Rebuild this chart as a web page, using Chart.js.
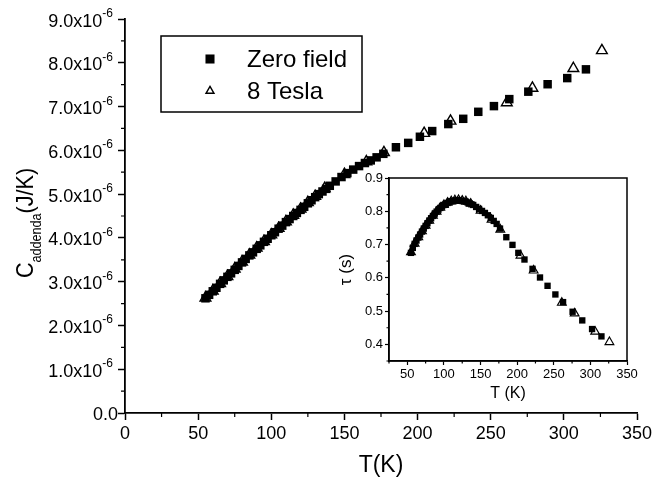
<!DOCTYPE html>
<html>
<head>
<meta charset="utf-8">
<script src="https://cdn.jsdelivr.net/npm/chart.js@4.4.1/dist/chart.umd.min.js"></script>
<style>
body { margin: 0; background: #fff; }
#wrap { position: relative; width: 667px; height: 479px; }
canvas { position: absolute; left: 0; top: 0; }
</style>
</head>
<body>
<div id="wrap">
  <canvas id="mainChart" width="667" height="479"></canvas>
  <canvas id="insetChart" width="667" height="479"></canvas>
</div>
<script>
// values; C is in units of 1e-6 J/K
var tZero = [55, 57.5, 60, 62.5, 65, 67.5, 70, 72.5, 75, 77.5, 80, 82.5, 85, 87.5, 90, 92.5, 95, 97.5,
  100, 102.5, 105, 107.5, 110, 112.5, 115, 117.5, 120, 122.5, 125, 127.5, 130, 132.5, 135, 137.5, 140,
  144, 148, 152, 156, 160, 164, 168, 172,
  176.6, 185.2, 193.6, 201.6, 210, 221, 231.2, 241.5, 252.2, 262.7, 275.7, 288.9, 302.3, 315.1];
var cZero = [2.62, 2.70, 2.78, 2.86, 2.95, 3.03, 3.11, 3.19, 3.27, 3.36, 3.44, 3.52, 3.60, 3.67, 3.75, 3.83, 3.91, 3.98,
  4.06, 4.13, 4.21, 4.28, 4.36, 4.43, 4.50, 4.57, 4.64, 4.71, 4.79, 4.86, 4.93, 5.00, 5.06, 5.12, 5.19,
  5.29, 5.39, 5.48, 5.56, 5.64, 5.71, 5.77, 5.84,
  5.92, 6.07, 6.17, 6.31, 6.44, 6.60, 6.72, 6.88, 7.01, 7.17, 7.34, 7.51, 7.65, 7.85];
var tauZero = [0.675, 0.690, 0.702, 0.712, 0.721, 0.730, 0.739, 0.748, 0.756, 0.764, 0.772, 0.779, 0.786, 0.793, 0.799, 0.805, 0.810, 0.815,
  0.819, 0.822, 0.825, 0.828, 0.830, 0.831, 0.832, 0.833, 0.833, 0.832, 0.831, 0.830, 0.829, 0.826, 0.824, 0.821, 0.819,
  0.813, 0.807, 0.801, 0.795, 0.788, 0.780, 0.771, 0.762,
  0.748, 0.722, 0.699, 0.675, 0.655, 0.627, 0.601, 0.576, 0.550, 0.527, 0.498, 0.472, 0.446, 0.424];

var tTesla = [55, 60, 65, 70, 75, 80, 85, 90, 95, 100, 105, 110, 115, 120, 125, 130, 136.5, 150, 165, 177,
  204.5, 222.5, 261, 278.5, 306.5, 326];
var cTesla = [2.63, 2.79, 2.96, 3.12, 3.29, 3.45, 3.61, 3.77, 3.92, 4.07, 4.22, 4.37, 4.52, 4.66, 4.81, 4.95, 5.13, 5.45, 5.74, 5.95,
  6.39, 6.67, 7.09, 7.42, 7.87, 8.28];
var tauTesla = [0.677, 0.703, 0.722, 0.740, 0.757, 0.772, 0.787, 0.799, 0.811, 0.819, 0.826, 0.830, 0.833, 0.834, 0.832, 0.830, 0.823, 0.802, 0.775, 0.745,
  0.667, 0.622, 0.525, 0.493, 0.438, 0.407];

var seriesLabels = ["Zero field", "8 Tesla"];
var yTickLabels = ["0.0", "1.0x10", "2.0x10", "3.0x10", "4.0x10", "5.0x10", "6.0x10", "7.0x10", "8.0x10", "9.0x10"];
var yTickExp = "-6";
var insetXTicks = [50, 100, 150, 200, 250, 300, 350];
var insetYTicks = [0.4, 0.5, 0.6, 0.7, 0.8, 0.9];

var FONT = '"Liberation Sans", Arial, Helvetica, sans-serif';
Chart.defaults.font.family = FONT;
Chart.defaults.color = '#000';

function pairs(xs, ys) {
  return xs.map(function (x, i) { return { x: x, y: ys[i] }; });
}

function fixedTicks(list) {
  return function (scale) {
    scale.ticks = list.map(function (v) { return { value: v }; });
  };
}

// short minor ticks between the labelled ones
function minorTicks(xMinor, xMajor, yMinor, yMajor, len) {
  return {
    id: 'minorTicks',
    afterDraw: function (chart) {
      var ctx = chart.ctx, xs = chart.scales.x, ys = chart.scales.y;
      ctx.save();
      ctx.strokeStyle = '#000';
      ctx.lineWidth = 1.2;
      ctx.beginPath();
      for (var v = xs.min; v <= xs.max + 1e-9; v += xMinor) {
        if (Math.abs(v / xMajor - Math.round(v / xMajor)) < 1e-6) continue;
        var px = xs.getPixelForValue(v);
        ctx.moveTo(px, xs.top); ctx.lineTo(px, xs.top + len);
      }
      for (var w = ys.min; w <= ys.max + 1e-9; w += yMinor) {
        if (Math.abs(w / yMajor - Math.round(w / yMajor)) < 1e-6) continue;
        var py = ys.getPixelForValue(w);
        ctx.moveTo(ys.right, py); ctx.lineTo(ys.right - len, py);
      }
      ctx.stroke();
      ctx.restore();
    }
  };
}

// y tick labels with a real raised exponent
var yLabels = {
  id: 'yLabels',
  afterDraw: function (chart) {
    var ctx = chart.ctx, ys = chart.scales.y;
    ctx.save();
    ctx.fillStyle = '#000';
    ctx.textAlign = 'right';
    ctx.textBaseline = 'alphabetic';
    ys.ticks.forEach(function (t) {
      var i = Math.round(t.value), y = ys.getPixelForValue(t.value);
      var right = ys.right - 12;
      if (i === 0) {
        ctx.font = '18px ' + FONT;
        ctx.fillText(yTickLabels[0], right + 5, y + 6.5);
        return;
      }
      ctx.font = '12px ' + FONT;
      var we = ctx.measureText(yTickExp).width;
      ctx.fillText(yTickExp, right, y - 2);
      ctx.font = '18px ' + FONT;
      ctx.fillText(yTickLabels[i], right - we, y + 7.5);
    });
    ctx.restore();
  }
};

var legendBox = {
  id: 'legendBox',
  afterDraw: function (chart) {
    var ctx = chart.ctx;
    ctx.save();
    ctx.lineWidth = 1.5;
    ctx.strokeStyle = '#000';
    ctx.strokeRect(161, 36, 201, 76);
    ctx.font = '24px ' + FONT;
    ctx.textBaseline = 'middle';
    chart.data.datasets.forEach(function (ds, i) {
      var y = 59 + i * 32;
      ctx.fillStyle = ds.backgroundColor;
      ctx.strokeStyle = ds.borderColor;
      ctx.lineWidth = ds.borderWidth;
      Chart.helpers.drawPoint(ctx, { pointStyle: ds.pointStyle, radius: i === 0 ? 6.4 : 4.6, rotation: 0, borderWidth: ds.borderWidth }, 210, y);
      ctx.fillStyle = '#000';
      ctx.fillText(ds.label, 247, y + 1);
    });
    ctx.restore();
  }
};

var yTitle = {
  id: 'yTitle',
  afterDraw: function (chart) {
    var ctx = chart.ctx, ys = chart.scales.y;
    var big = '24px ' + FONT, small = '14px ' + FONT;
    ctx.save();
    ctx.translate(33, (ys.top + ys.bottom) / 2 + 7);
    ctx.rotate(-Math.PI / 2);
    ctx.scale(0.9, 1);
    ctx.fillStyle = '#000';
    ctx.font = big;
    var w1 = ctx.measureText('C').width, w3 = ctx.measureText('(J/K)').width;
    ctx.font = small;
    var w2 = ctx.measureText('addenda').width;
    var x = -(w1 + w2 + w3) / 2;
    ctx.font = big; ctx.fillText('C', x, 0); x += w1;
    ctx.font = small; ctx.fillText('addenda', x, 8); x += w2;
    ctx.font = big; ctx.fillText('(J/K)', x, 0);
    ctx.restore();
  }
};

var frame = {
  id: 'frame',
  afterDraw: function (chart) {
    var a = chart.chartArea, ctx = chart.ctx;
    ctx.save();
    ctx.strokeStyle = '#000';
    ctx.lineWidth = 1.5;
    ctx.strokeRect(a.left, a.top, a.right - a.left, a.bottom - a.top);
    ctx.restore();
  }
};

new Chart('mainChart', {
  type: 'scatter',
  data: {
    datasets: [{
      label: seriesLabels[0],
      data: pairs(tZero, cZero),
      pointStyle: 'rect',
      pointRadius: 6,
      backgroundColor: '#000',
      borderColor: '#000',
      borderWidth: 0
    }, {
      label: seriesLabels[1],
      data: pairs(tTesla, cTesla),
      pointStyle: 'triangle',
      pointRadius: 6.2,
      backgroundColor: '#fff',
      borderColor: '#000',
      borderWidth: 1.4
    }]
  },
  options: {
    responsive: false,
    animation: false,
    events: [],
    layout: { padding: { left: 0, top: 19, right: 30, bottom: 0 } },
    plugins: { legend: { display: false }, tooltip: { enabled: false } },
    scales: {
      x: {
        type: 'linear', min: 0, max: 350,
        afterFit: function (s) { s.height = 66; },
        ticks: { stepSize: 50, font: { size: 18 }, color: '#000', padding: 3, maxRotation: 0, autoSkip: false },
        grid: { drawOnChartArea: false, tickLength: 7, color: '#000', tickWidth: 1.5 },
        border: { color: '#000', width: 1.8 },
        title: { display: true, text: 'T(K)', font: { size: 23 }, color: '#000', padding: { top: 0, bottom: 0 } }
      },
      y: {
        min: 0, max: 9,
        afterFit: function (s) { s.width = 125; },
        ticks: { stepSize: 1, display: false },
        grid: { drawOnChartArea: false, tickLength: 7, color: '#000', tickWidth: 1.5 },
        border: { color: '#000', width: 1.8 }
      }
    }
  },
  plugins: [minorTicks(25, 50, 0.5, 1, 4), yLabels, legendBox, yTitle]
});

new Chart('insetChart', {
  type: 'scatter',
  data: {
    datasets: [{
      label: seriesLabels[0],
      data: pairs(tZero, tauZero),
      pointStyle: 'rect',
      pointRadius: 4.5,
      backgroundColor: '#000',
      borderColor: '#000',
      borderWidth: 0
    }, {
      label: seriesLabels[1],
      data: pairs(tTesla, tauTesla),
      pointStyle: 'triangle',
      pointRadius: 5,
      backgroundColor: '#fff',
      borderColor: '#000',
      borderWidth: 1.2
    }]
  },
  options: {
    responsive: false,
    animation: false,
    events: [],
    layout: { padding: { left: 333, top: 178, right: 40, bottom: 72 } },
    plugins: { legend: { display: false }, tooltip: { enabled: false } },
    scales: {
      x: {
        type: 'linear', min: 25, max: 350,
        afterFit: function (s) { s.height = 46; },
        afterBuildTicks: fixedTicks(insetXTicks),
        ticks: { font: { size: 13 }, color: '#000', padding: 2, maxRotation: 0, autoSkip: false },
        grid: { drawOnChartArea: false, tickLength: 4, color: '#000', tickWidth: 1.2 },
        border: { color: '#000', width: 1.5 },
        title: { display: true, text: 'T (K)', font: { size: 16 }, color: '#000', padding: { top: 4, bottom: 4 } }
      },
      y: {
        min: 0.35, max: 0.9,
        afterFit: function (s) { s.width = 56; },
        afterBuildTicks: fixedTicks(insetYTicks),
        ticks: {
          font: { size: 13 }, color: '#000', padding: 2, autoSkip: false,
          callback: function (v) { return v.toFixed(1); }
        },
        grid: { drawOnChartArea: false, tickLength: 4, color: '#000', tickWidth: 1.2 },
        border: { color: '#000', width: 1.5 },
        title: { display: true, text: 'τ (s)', font: { size: 17 }, color: '#000', padding: { top: 3, bottom: 3 } }
      }
    }
  },
  plugins: [minorTicks(25, 50, 0.05, 0.1, 2.5), frame]
});
</script>
</body>
</html>
